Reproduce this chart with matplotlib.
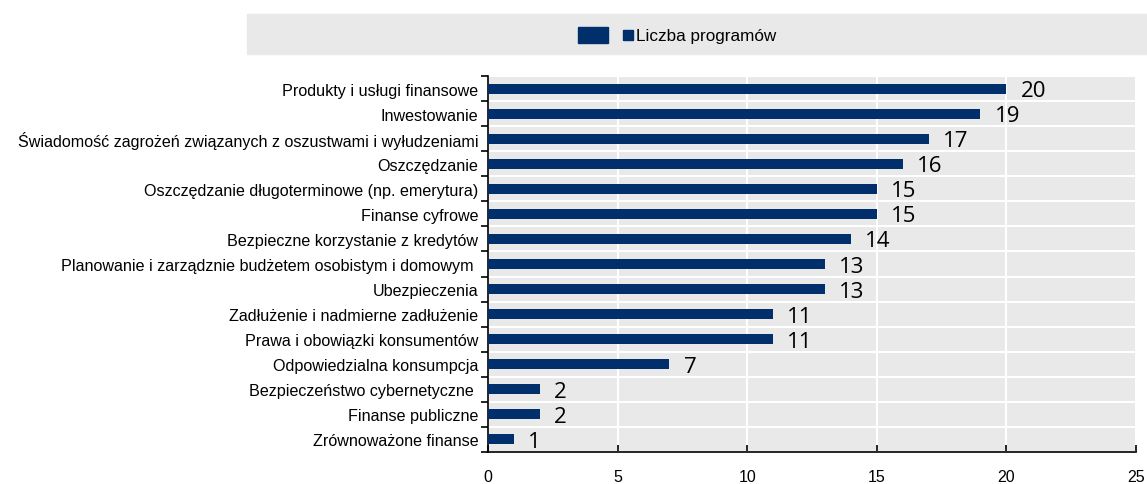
import matplotlib.pyplot as plt
from matplotlib.patches import Rectangle

categories = [
    "Produkty i usługi finansowe",
    "Inwestowanie",
    "Świadomość zagrożeń związanych z oszustwami i wyłudzeniami",
    "Oszczędzanie",
    "Oszczędzanie długoterminowe (np. emerytura)",
    "Finanse cyfrowe",
    "Bezpieczne korzystanie z kredytów",
    "Planowanie i zarządznie budżetem osobistym i domowym ",
    "Ubezpieczenia",
    "Zadłużenie i nadmierne zadłużenie",
    "Prawa i obowiązki konsumentów",
    "Odpowiedzialna konsumpcja",
    "Bezpieczeństwo cybernetyczne ",
    "Finanse publiczne",
    "Zrównoważone finanse",
]
values = [20, 19, 17, 16, 15, 15, 14, 13, 13, 11, 11, 7, 2, 2, 1]
series_name = "Liczba programów"
x_ticks = [0, 5, 10, 15, 20, 25]

navy = "#002F6C"
grey_bg = "#E9E9E9"

plt.rcParams['font.family'] = ['Liberation Sans', 'DejaVu Sans']

fig = plt.figure(figsize=(11.47, 4.85), dpi=100)
ax = fig.add_axes([488 / 1147, 1 - 453 / 485, (1136 - 488) / 1147, (453 - 77) / 485])
ax.set_facecolor(grey_bg)

n = len(categories)
pos = list(range(n))
ax.barh(pos, values, height=0.4, color=navy, zorder=3)

# value labels right of each bar
for p, v in zip(pos, values):
    ax.text(v + 0.55, p + 0.08, str(v), va="center", ha="left",
            fontsize=16, family=["Open Sans", "DejaVu Sans"], zorder=4)

ax.set_ylim(n - 0.5, -0.5)
ax.set_xlim(0, 25)

# category labels at bar centres, tick marks at band edges
ax.set_yticks(pos)
ax.set_yticklabels(categories, fontsize=11.6)
ax.tick_params(axis="y", which="major", length=0, pad=7)
ax.set_yticks([i - 0.5 for i in range(n + 1)], minor=True)
ax.tick_params(axis="y", which="minor", length=5, direction="out", width=1.2)

ax.set_xticks(x_ticks)
ax.set_xticklabels([str(t) for t in x_ticks], fontsize=11.5)
ax.tick_params(axis="x", length=5, direction="in", width=1.2, pad=12)

ax.grid(axis="x", which="major", color="white", linewidth=1.5, zorder=0)
ax.grid(axis="y", which="minor", color="white", linewidth=1.5, zorder=0)
ax.set_axisbelow(True)

for side in ["top", "right"]:
    ax.spines[side].set_visible(False)
for side in ["left", "bottom"]:
    ax.spines[side].set_linewidth(1.2)
    ax.spines[side].set_color("black")

# legend strip
W, H = 1147, 485
fig.patches.append(Rectangle((247 / W, 1 - 55 / H), 900 / W, 40 / H,
                             transform=fig.transFigure, color=grey_bg, zorder=0))
fig.patches.append(Rectangle((578 / W, 1 - 44 / H), 30 / W, 16 / H,
                             transform=fig.transFigure, color=navy, zorder=1))
fig.patches.append(Rectangle((623 / W, 1 - 41 / H), 10 / W, 10 / H,
                             transform=fig.transFigure, color=navy, zorder=1))
fig.text(636 / W, 1 - 36 / H, series_name, fontsize=12.3, va="center", ha="left")

fig.savefig("out.png", dpi=100)
